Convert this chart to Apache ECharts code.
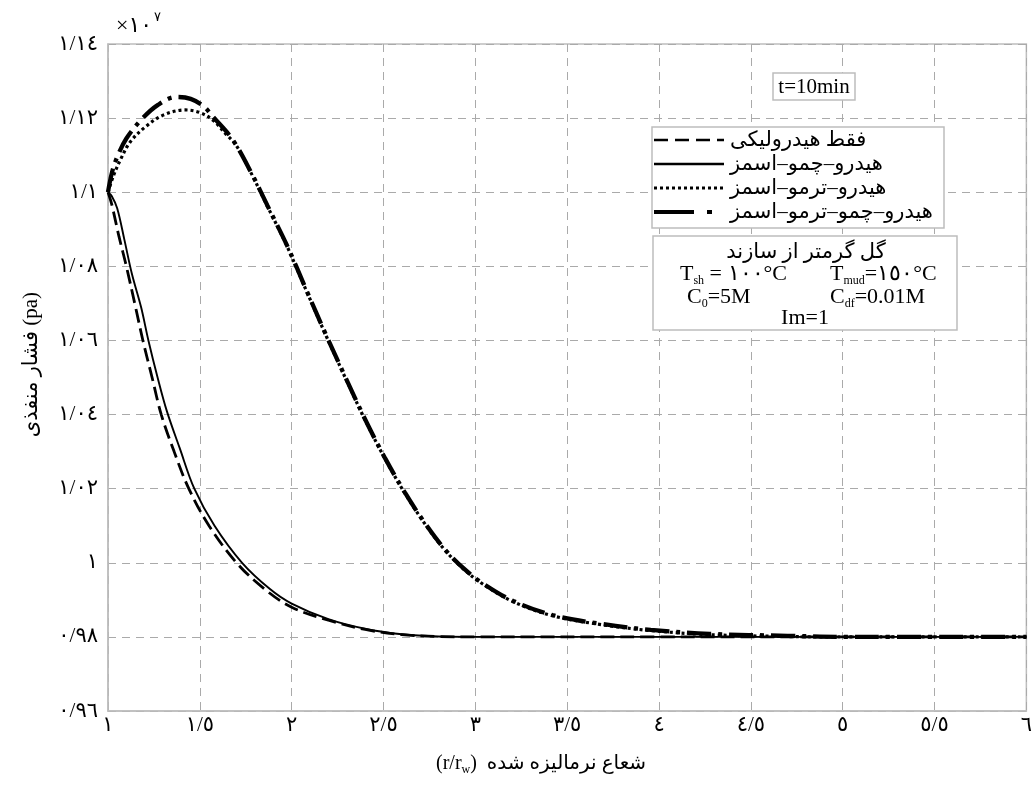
<!DOCTYPE html>
<html><head><meta charset="utf-8">
<script src="https://cdn.jsdelivr.net/npm/echarts@6/dist/echarts.min.js"></script>
<style>html,body{margin:0;padding:0;background:#fff}#c{width:1035px;height:791px}</style>
</head><body><div id="c"></div>
<script>
// ---- data ----
const seriesNames = ['فقط هیدرولیکی', 'هیدرو–چمو–اسمز', 'هیدرو–ترمو–اسمز', 'هیدرو–چمو–ترمو–اسمز'];
const xTickLabels = ['۱','۱/٥','۲','۲/٥','۳','۳/٥','٤','٤/٥','٥','٥/٥','٦'];
const yTickLabels = ['۰/۹٦','۰/۹۸','۱','۱/۰۲','۱/۰٤','۱/۰٦','۱/۰۸','۱/۱','۱/۱۲','۱/۱٤'];

const hydraulicX = [1, 1.02, 1.06, 1.1, 1.15, 1.19, 1.24, 1.29, 1.36, 1.44, 1.55, 1.7, 1.85, 2.0, 2.2, 2.4, 2.6, 2.8, 3.0, 4.0, 5.0, 6.0];
const hydraulicY = [1.1, 1.0968, 1.088, 1.08, 1.069, 1.06, 1.05, 1.04, 1.03, 1.02, 1.01, 1.0, 0.993, 0.988, 0.9845, 0.982, 0.9806, 0.9801, 0.98, 0.98, 0.98, 0.98];

const chemoX = [1, 1.02, 1.05, 1.09, 1.13, 1.18, 1.22, 1.27, 1.32, 1.39, 1.47, 1.58, 1.73, 1.88, 2.0, 2.2, 2.4, 2.6, 2.8, 3.0, 4.0, 5.0, 6.0];
const chemoY = [1.1, 1.099, 1.0957, 1.087, 1.078, 1.069, 1.06, 1.05, 1.041, 1.031, 1.02, 1.01, 1.0, 0.993, 0.989, 0.9848, 0.9822, 0.9807, 0.9801, 0.98, 0.98, 0.98, 0.98];

const thermoX = [1, 1.03, 1.07, 1.12, 1.2, 1.3, 1.42, 1.5, 1.57, 1.64, 1.7, 1.787, 1.867, 1.974, 2.081, 2.188, 2.296, 2.403, 2.51, 2.617, 2.724, 2.831, 2.938, 3.045, 3.206, 3.42, 3.687, 3.955, 4.276, 4.7, 5.0, 6.0];
const thermoY = [1.1, 1.1045, 1.109, 1.1135, 1.1175, 1.1208, 1.1222, 1.1215, 1.1195, 1.1158, 1.1125, 1.1044, 1.0963, 1.0855, 1.0733, 1.0612, 1.0495, 1.0382, 1.0279, 1.0187, 1.0106, 1.0036, 0.9982, 0.9941, 0.9895, 0.9857, 0.9833, 0.9817, 0.9806, 0.9801, 0.98, 0.98];

const chemoThermoX = [1, 1.02, 1.05, 1.1, 1.18, 1.27, 1.37, 1.45, 1.52, 1.573, 1.68, 1.787, 1.867, 1.974, 2.081, 2.188, 2.296, 2.403, 2.51, 2.617, 2.724, 2.831, 2.938, 3.045, 3.206, 3.42, 3.687, 3.955, 4.276, 4.7, 5.0, 6.0];
const chemoThermoY = [1.1, 1.105, 1.1095, 1.1145, 1.1195, 1.1235, 1.1257, 1.1252, 1.1232, 1.1203, 1.1141, 1.1046, 1.0965, 1.0857, 1.0735, 1.0614, 1.0497, 1.0384, 1.0281, 1.0189, 1.0108, 1.0038, 0.9984, 0.9943, 0.9897, 0.9859, 0.9835, 0.9819, 0.9808, 0.9803, 0.98, 0.98];

// ---- build ----
const zip = (xs, ys) => xs.map((x, i) => [x, ys[i]]);
const arabicFont = "'Liberation Serif','DejaVu Sans',serif";
const latinFont = "'Liberation Serif',serif";

const chart = echarts.init(document.getElementById('c'), null, {renderer: 'canvas'});
const mk = (name, xs, ys, ls) => ({
  name, type: 'line', data: zip(xs, ys), showSymbol: false, symbol: 'none',
  smooth: 0.35, lineStyle: Object.assign({color: '#000'}, ls), itemStyle: {color: '#000'}, z: 3
});
const sub = {fontFamily: latinFont, fontSize: 12, fill: '#000', padding: [14, 0, 0, 0]};
const big = {fontFamily: latinFont, fontSize: 22, fill: '#000'};

chart.setOption({
  animation: false,
  backgroundColor: '#fff',
  grid: {left: 108, top: 44, width: 934, height: 667, show: true, borderColor: '#bdbdbd', borderWidth: 1.5},
  xAxis: {
    type: 'value', min: 1, max: 6, interval: 0.5,
    axisLine: {show: true, lineStyle: {color: '#bdbdbd', width: 1.5}},
    axisTick: {show: false},
    splitLine: {show: true, lineStyle: {color: '#aaa', type: [8, 6], width: 1}},
    axisLabel: {
      fontFamily: arabicFont, fontSize: 21, color: '#000', margin: 4,
      formatter: v => xTickLabels[Math.round((v - 1) / 0.5)] || ''
    }
  },
  yAxis: {
    type: 'value', min: 0.96, max: 1.14, interval: 0.02,
    axisLine: {show: true, lineStyle: {color: '#bdbdbd', width: 1.5}},
    axisTick: {show: false},
    splitLine: {show: true, lineStyle: {color: '#aaa', type: [8, 6], width: 1}},
    axisLabel: {
      fontFamily: arabicFont, fontSize: 21, color: '#000', margin: 10,
      formatter: v => yTickLabels[Math.round((v - 0.96) / 0.02)] || ''
    }
  },
  legend: {
    orient: 'vertical', left: 652, top: 128, z: 20,
    data: [
      {name: seriesNames[0], lineStyle: {type: [14, 7], width: 2.6}},
      {name: seriesNames[1], lineStyle: {type: 'solid', width: 2.4}},
      {name: seriesNames[2], lineStyle: {type: [3, 3], width: 3}},
      {name: seriesNames[3], lineStyle: {type: [40, 13, 5, 30], width: 4}}
    ],
    itemWidth: 70, itemHeight: 14, itemGap: 0,
    itemStyle: {color: 'rgba(0,0,0,0)', borderWidth: 0, opacity: 0},
    padding: 0,
    textStyle: {fontFamily: arabicFont, fontSize: 21, lineHeight: 24, color: '#000', padding: [0, 0, 0, 1]}
  },
  series: [
    mk(seriesNames[0], hydraulicX, hydraulicY, {type: [14, 6], width: 2.8}),
    mk(seriesNames[1], chemoX, chemoY, {type: 'solid', width: 1.9}),
    mk(seriesNames[2], thermoX, thermoY, {type: [3, 3], width: 3.2}),
    mk(seriesNames[3], chemoThermoX, chemoThermoY, {type: [24, 7, 4, 7], width: 4.3})
  ],
  graphic: [
    {type: 'text', left: 116, top: 11, style: {
      text: '{a|×۱۰}{s|۷}', rich: {
        a: {fontFamily: arabicFont, fontSize: 22, fill: '#000', verticalAlign: 'bottom'},
        s: {fontFamily: arabicFont, fontSize: 13, fill: '#000', verticalAlign: 'top', padding: [0,0,13,2]}
      }}},
    {type: 'text', left: 21, top: 292, rotation: Math.PI / 2, style: {
      text: 'فشار منفذی (pa)', fontFamily: arabicFont, fontSize: 21, fill: '#000'}},
    {type: 'text', left: 436, top: 754, style: {
      text: '{a|(r/r}{b|w}{a|)  شعاع نرمالیزه شده}', rich: {
        a: {fontFamily: arabicFont, fontSize: 20, fill: '#000'},
        b: {fontFamily: latinFont, fontSize: 12, fill: '#000', padding: [11,0,0,0]}
      }}},
    // t=10min box
    {type: 'rect', shape: {x: 773, y: 73, width: 82, height: 27}, style: {fill: '#fff', stroke: '#bdbdbd', lineWidth: 1.5}, z: 10},
    {type: 'text', x: 814, y: 87, style: {text: 't=10min', fontFamily: latinFont, fontSize: 21, fill: '#000', align: 'center', verticalAlign: 'middle'}, z: 11},
    // legend frame
    {type: 'rect', shape: {x: 652, y: 127, width: 292, height: 101}, style: {fill: '#fff', stroke: '#bdbdbd', lineWidth: 1.5}, z: 10},
    // conditions box
    {type: 'rect', shape: {x: 653, y: 236, width: 304, height: 94}, style: {fill: '#fff', stroke: '#bdbdbd', lineWidth: 1.5}, z: 10},
    {type: 'text', x: 806, y: 252, style: {text: 'گل گرمتر از سازند', fontFamily: arabicFont, fontSize: 21, fill: '#000', align: 'center', verticalAlign: 'middle'}, z: 11},
    {type: 'text', x: 680, y: 261, style: {text: '{a|T}{s|sh}{a| = ۱۰۰°C}', rich: {a: big, s: sub}}, z: 11},
    {type: 'text', x: 830, y: 261, style: {text: '{a|T}{s|mud}{a|=۱٥۰°C}', rich: {a: big, s: sub}}, z: 11},
    {type: 'text', x: 687, y: 284, style: {text: '{a|C}{s|0}{a|=5M}', rich: {a: big, s: sub}}, z: 11},
    {type: 'text', x: 830, y: 284, style: {text: '{a|C}{s|df}{a|=0.01M}', rich: {a: big, s: sub}}, z: 11},
    {type: 'text', x: 805, y: 318, style: {text: 'Im=1', fontFamily: latinFont, fontSize: 22, fill: '#000', align: 'center', verticalAlign: 'middle'}, z: 11}
  ]
});
</script>
</body></html>
